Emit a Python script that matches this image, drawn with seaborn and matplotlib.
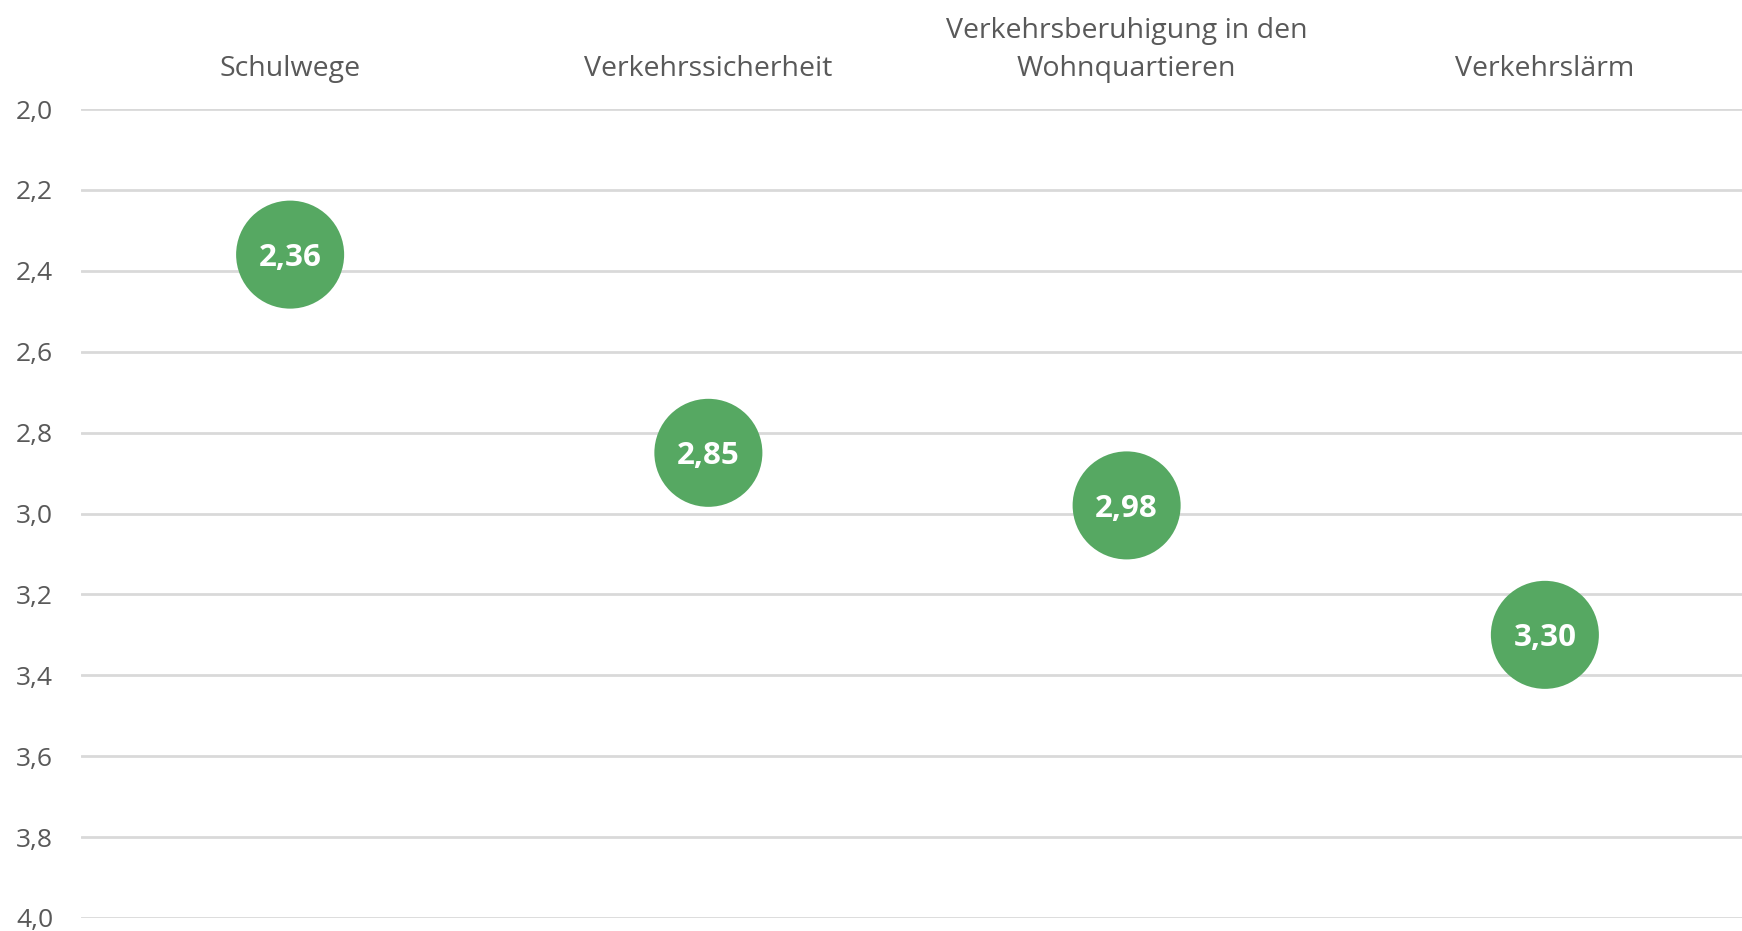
import matplotlib
matplotlib.use("Agg")
import matplotlib.pyplot as plt
import seaborn as sns
import pandas as pd
from matplotlib.ticker import FuncFormatter

# Durchschnittliche Bewertung je Thema
categories = ["Schulwege", "Verkehrssicherheit",
              "Verkehrsberuhigung in den\nWohnquartieren", "Verkehrslärm"]
values = [2.36, 2.85, 2.98, 3.30]
y_ticks = [2.0, 2.2, 2.4, 2.6, 2.8, 3.0, 3.2, 3.4, 3.6, 3.8, 4.0]

df = pd.DataFrame({"thema": categories, "wert": values})

sns.set_theme(style="white")
plt.rcParams["font.family"] = ["Open Sans", "DejaVu Sans"]

GREEN = "#56A862"
GREY_TEXT = "#595959"
GRID = "#D9D9D9"

fig = plt.figure(figsize=(17.42, 9.31), dpi=100)
ax = fig.add_axes([81 / 1742, 1 - 918 / 931, (1754 - 81) / 1742, (918 - 109) / 931])

sns.scatterplot(data=df, x="thema", y="wert", ax=ax, s=6050, color=GREEN,
                edgecolor="none", legend=False, zorder=3)

for i, v in enumerate(values):
    ax.text(i, v, f"{v:.2f}".replace(".", ","), ha="center", va="center_baseline",
            color="white", fontsize=22.5, fontweight="bold", zorder=4)

ax.set_xlim(-0.5, 3.5)
ax.set_ylim(4.0, 2.0)
ax.set_yticks(y_ticks)
ax.yaxis.set_major_formatter(FuncFormatter(lambda v, _: f"{v:.1f}".replace(".", ",")))
ax.grid(axis="y", color=GRID, linewidth=2)
ax.grid(axis="x", visible=False)
ax.set_axisbelow(True)

ax.xaxis.tick_top()
ax.tick_params(axis="x", length=0, pad=19, labelsize=20.5, labelcolor=GREY_TEXT)
ax.tick_params(axis="y", length=0, pad=20, labelsize=19, labelcolor=GREY_TEXT)
for lbl in ax.get_xticklabels():
    lbl.set_multialignment("center")
    lbl.set_linespacing(1.45)

ax.set_xlabel("")
ax.set_ylabel("")
for sp in ax.spines.values():
    sp.set_visible(False)

fig.savefig("out.png", dpi=100, facecolor="white")
